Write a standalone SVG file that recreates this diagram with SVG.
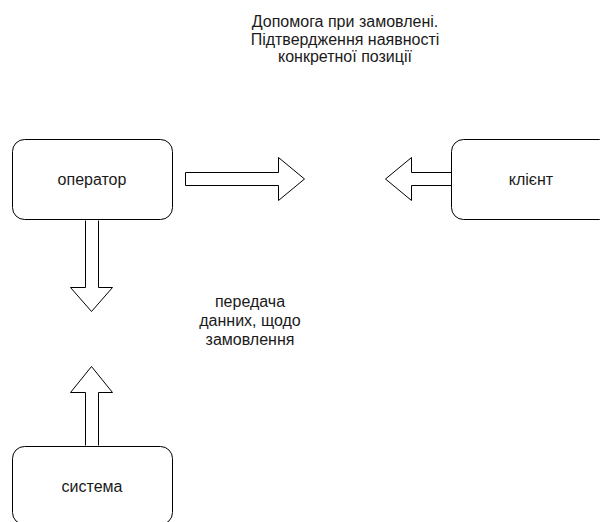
<svg xmlns="http://www.w3.org/2000/svg" width="600" height="522" viewBox="0 0 600 522">
  <style>
    .box { fill: #ffffff; stroke: #000000; stroke-width: 1; }
    .arrow { fill: #ffffff; stroke: #000000; stroke-width: 1; stroke-linejoin: miter; }
    text { font-family: "Liberation Sans", Arial, sans-serif; font-size: 16px; fill: #1a1a1a; text-anchor: middle; }
  </style>
  <rect width="600" height="522" fill="#ffffff"/>

  <g id="connectors">
    <!-- operator -> right -->
    <path class="arrow" d="M185.5,172.5 H278.5 V157.5 L304.5,179 L278.5,200.5 V185.5 H185.5 Z"/>
    <!-- client -> left -->
    <path class="arrow" d="M451.5,172.5 H411.5 V157.5 L385.5,179 L411.5,200.5 V185.5 H451.5"/>
    <!-- operator -> down -->
    <path class="arrow" d="M85.5,220.5 V287.5 H70.5 L91.5,311.5 L112.5,287.5 H98.5 V220.5"/>
    <!-- system -> up -->
    <path class="arrow" d="M85.5,445.5 V392.5 H70.5 L91.5,366.5 L112.5,392.5 H98.5 V445.5"/>
  </g>

  <g id="operator">
    <rect class="box" x="12.5" y="139.5" width="160" height="80" rx="12" ry="12"/>
    <text x="92" y="185">оператор</text>
  </g>

  <g id="client">
    <rect class="box" x="451.5" y="139.5" width="160" height="80" rx="12" ry="12"/>
    <text x="531" y="185">клієнт</text>
  </g>

  <g id="system">
    <rect class="box" x="12.5" y="446.5" width="160" height="78" rx="12" ry="12"/>
    <text x="92" y="492">система</text>
  </g>

  <g id="label-help">
    <text x="345" y="27">Допомога при замовлені.</text>
    <text x="345" y="44.5">Підтвердження наявності</text>
    <text x="345" y="62">конкретної позиції</text>
  </g>

  <g id="label-data">
    <text x="250" y="307">передача</text>
    <text x="250" y="326">данних, щодо</text>
    <text x="250" y="345">замовлення</text>
  </g>
</svg>
